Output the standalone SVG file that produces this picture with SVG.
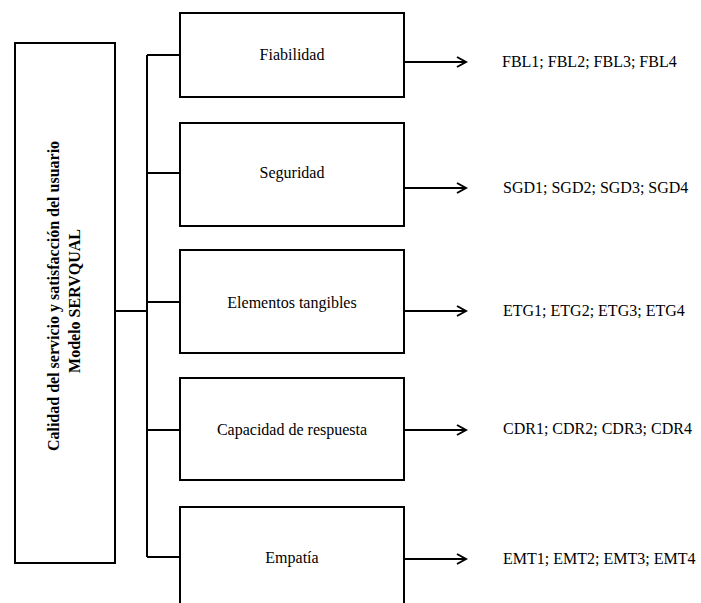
<svg xmlns="http://www.w3.org/2000/svg" width="701" height="603" viewBox="0 0 701 603">
<style>
.box{fill:#fff;stroke:#000;stroke-width:2}
.ln{fill:none;stroke:#000;stroke-width:2}
.t{font-family:"Liberation Serif","Times New Roman",serif;font-size:16px;fill:#000}
.c{text-anchor:middle}
.b{font-weight:bold}
</style>
<defs>
<marker id="ah" markerWidth="12" markerHeight="12" refX="10" refY="6" orient="auto" markerUnits="userSpaceOnUse">
<path d="M1,1 L10,6 L1,11" fill="none" stroke="#000" stroke-width="2"/>
</marker>
</defs>
<rect width="701" height="603" fill="#fff"/>
<g id="connectors">
<path class="ln" d="M115,311 H147"/>
<path class="ln" d="M147,55 V557"/>
<path class="ln" d="M147,55 H180"/>
<path class="ln" d="M147,173 H180"/>
<path class="ln" d="M147,302 H180"/>
<path class="ln" d="M147,430 H180"/>
<path class="ln" d="M147,557 H180"/>
<path class="ln" d="M403,62 H466" marker-end="url(#ah)"/>
<path class="ln" d="M403,188 H466" marker-end="url(#ah)"/>
<path class="ln" d="M403,311 H466" marker-end="url(#ah)"/>
<path class="ln" d="M403,430 H466" marker-end="url(#ah)"/>
<path class="ln" d="M403,559 H466" marker-end="url(#ah)"/>
</g>
<g id="main">
<rect class="box" x="15" y="43" width="100" height="520"/>
<text class="t b c" transform="translate(59,296) rotate(-90)">Calidad del servicio y satisfacción del usuario</text>
<text class="t b c" transform="translate(80,301) rotate(-90)">Modelo SERVQUAL</text>
</g>
<g id="fiabilidad">
<rect class="box" x="180" y="13" width="224" height="84"/>
<text class="t c" x="292" y="60">Fiabilidad</text>
</g>
<g id="seguridad">
<rect class="box" x="180" y="123" width="224" height="103"/>
<text class="t c" x="292" y="178">Seguridad</text>
</g>
<g id="elementos">
<rect class="box" x="180" y="250" width="224" height="103"/>
<text class="t c" x="292" y="308">Elementos tangibles</text>
</g>
<g id="capacidad">
<rect class="box" x="180" y="378" width="224" height="102"/>
<text class="t c" x="292" y="435">Capacidad de respuesta</text>
</g>
<g id="empatia">
<rect class="box" x="180" y="507" width="224" height="110"/>
<text class="t c" x="292" y="563">Empatía</text>
</g>
<g id="items">
<text class="t" x="502" y="67">FBL1; FBL2; FBL3; FBL4</text>
<text class="t" x="503" y="193">SGD1; SGD2; SGD3; SGD4</text>
<text class="t" x="503" y="316">ETG1; ETG2; ETG3; ETG4</text>
<text class="t" x="503" y="434">CDR1; CDR2; CDR3; CDR4</text>
<text class="t" x="503" y="564">EMT1; EMT2; EMT3; EMT4</text>
</g>
</svg>
